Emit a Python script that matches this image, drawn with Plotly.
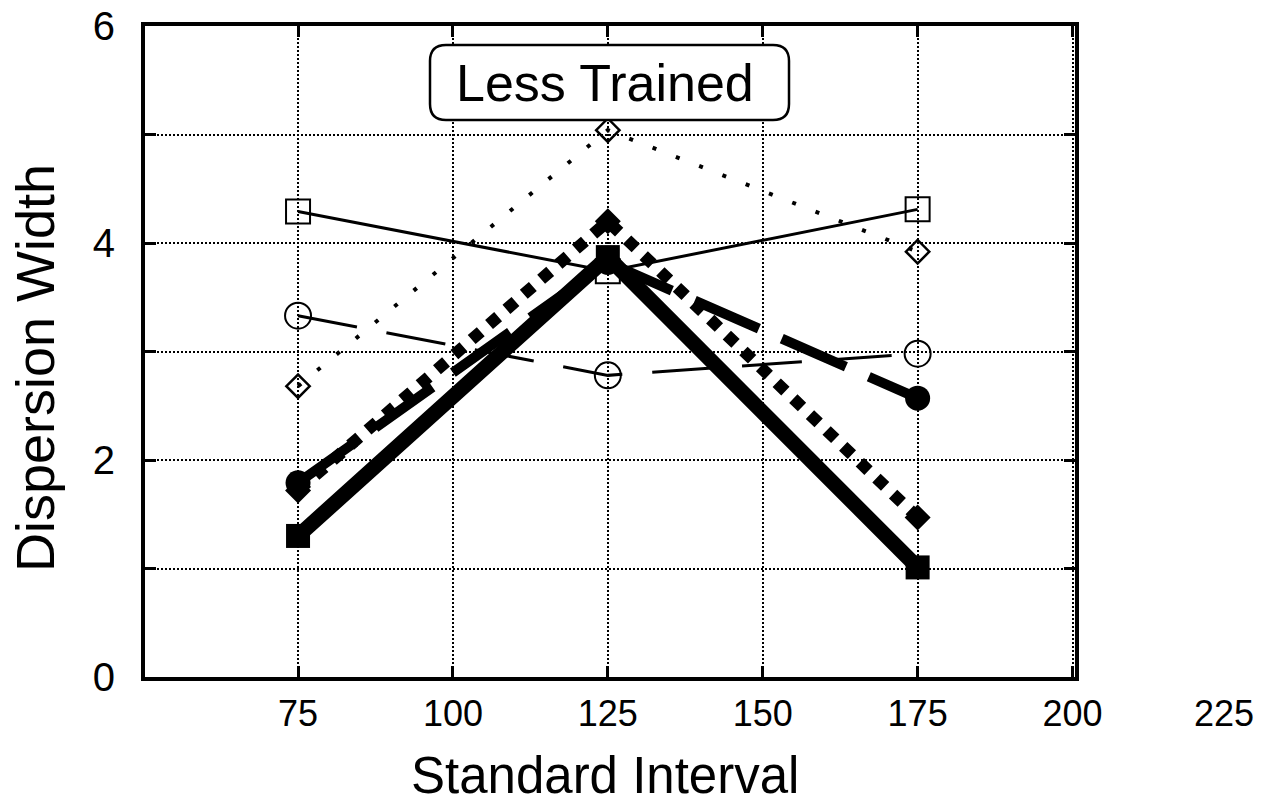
import plotly.graph_objects as go

# ---- data ----
intervals = [75, 125, 175]
open_square = [4.29, 3.74, 4.31]
open_diamond = [2.68, 5.04, 3.92]
open_circle = [3.33, 2.78, 2.98]
filled_circle = [1.79, 3.82, 2.57]
filled_diamond = [1.72, 4.20, 1.47]
filled_square = [1.30, 3.87, 1.01]

x_tick_vals = [75, 100, 125, 150, 175, 200]
x_tick_text = ["75", "100", "125", "150", "175", "200"]
extra_x_label = "225"
y_tick_vals = [0, 1, 2, 3, 4, 5, 6]
y_tick_text = ["0", "", "2", "", "4", "", "6"]
panel_label = "Less Trained"
x_title = "Standard Interval"
y_title = "Dispersion Width"

FONT = "Liberation Sans, Arial, Helvetica, sans-serif"

# plot area in pixels
L, R, T, B = 145, 1075, 26, 677
W, H = 1267, 803


def px(xp):
    return (xp - L) / (R - L)


def py(yp):
    return (B - yp) / (B - T)


fig = go.Figure()

series = [
    (open_diamond, dict(color="black", width=4, dash="4px,21px"),
     dict(symbol="diamond-open", size=18, color="black", line=dict(width=2.5, color="black"))),
    (open_circle, dict(color="black", width=3, dash="60px,30px"),
     dict(symbol="circle-open", size=26, color="black", line=dict(width=2, color="black"))),
    (open_square, dict(color="black", width=3),
     dict(symbol="square-open", size=24, color="black", line=dict(width=2, color="black"))),
    (filled_diamond, dict(color="black", width=12, dash="12px,11px"),
     dict(symbol="diamond", size=20, color="black")),
    (filled_circle, dict(color="black", width=10, dash="70px,25px"),
     dict(symbol="circle", size=25, color="black")),
    (filled_square, dict(color="black", width=15),
     dict(symbol="square", size=24, color="black")),
]

for ys, line, marker in series:
    fig.add_trace(go.Scatter(x=intervals, y=ys, mode="lines+markers",
                             line=line, marker=marker, showlegend=False,
                             hoverinfo="skip"))

# rounded box for panel label
x0, x1, y0, y1, r = 430, 789, 45, 120, 16
path = (
    f"M {px(x0 + r)} {py(y0)} L {px(x1 - r)} {py(y0)} "
    f"Q {px(x1)} {py(y0)} {px(x1)} {py(y0 + r)} "
    f"L {px(x1)} {py(y1 - r)} "
    f"Q {px(x1)} {py(y1)} {px(x1 - r)} {py(y1)} "
    f"L {px(x0 + r)} {py(y1)} "
    f"Q {px(x0)} {py(y1)} {px(x0)} {py(y1 - r)} "
    f"L {px(x0)} {py(y0 + r)} "
    f"Q {px(x0)} {py(y0)} {px(x0 + r)} {py(y0)} Z"
)
fig.add_shape(type="path", path=path, xref="paper", yref="paper",
              line=dict(color="black", width=2.5), fillcolor="white", layer="above")

annotations = [
    dict(text=panel_label, x=px(605), y=py(83), xref="paper", yref="paper",
         showarrow=False, font=dict(family=FONT, size=52, color="black"),
         xanchor="center", yanchor="middle"),
    dict(text=x_title, x=px(605), y=py(775), xref="paper", yref="paper",
         showarrow=False, font=dict(family=FONT, size=51, color="black"),
         xanchor="center", yanchor="middle"),
    dict(text=y_title, x=px(35), y=py(368), xref="paper", yref="paper",
         showarrow=False, textangle=-90, font=dict(family=FONT, size=54, color="black"),
         xanchor="center", yanchor="middle"),
    dict(text=extra_x_label, x=px(1224), y=py(713), xref="paper", yref="paper",
         showarrow=False, font=dict(family=FONT, size=36, color="black"),
         xanchor="center", yanchor="middle"),
]

fig.update_layout(
    width=W, height=H, autosize=False,
    margin=dict(l=L, r=W - R, t=T, b=H - B, pad=0),
    paper_bgcolor="white", plot_bgcolor="white",
    font=dict(family=FONT, color="black"),
    annotations=annotations,
    showlegend=False,
)

fig.update_xaxes(
    range=[50.3, 200.4], tickmode="array", tickvals=x_tick_vals, ticktext=x_tick_text,
    ticks="inside", ticklen=11, tickwidth=3, tickcolor="black",
    showline=True, linecolor="black", linewidth=4, mirror="allticks",
    showgrid=True, gridcolor="black", gridwidth=2, griddash="2px,2px",
    zeroline=False, tickfont=dict(family=FONT, size=36, color="black"),
    ticklabelstandoff=2, automargin=False,
)
fig.update_yaxes(
    range=[0, 6], tickmode="array", tickvals=y_tick_vals, ticktext=y_tick_text,
    ticks="inside", ticklen=11, tickwidth=3, tickcolor="black",
    showline=True, linecolor="black", linewidth=4, mirror="allticks",
    showgrid=True, gridcolor="black", gridwidth=2, griddash="2px,2px",
    zeroline=False, tickfont=dict(family=FONT, size=40, color="black"),
    ticklabelstandoff=18, automargin=False,
)

fig.write_html("out.html", config={"displayModeBar": False})
